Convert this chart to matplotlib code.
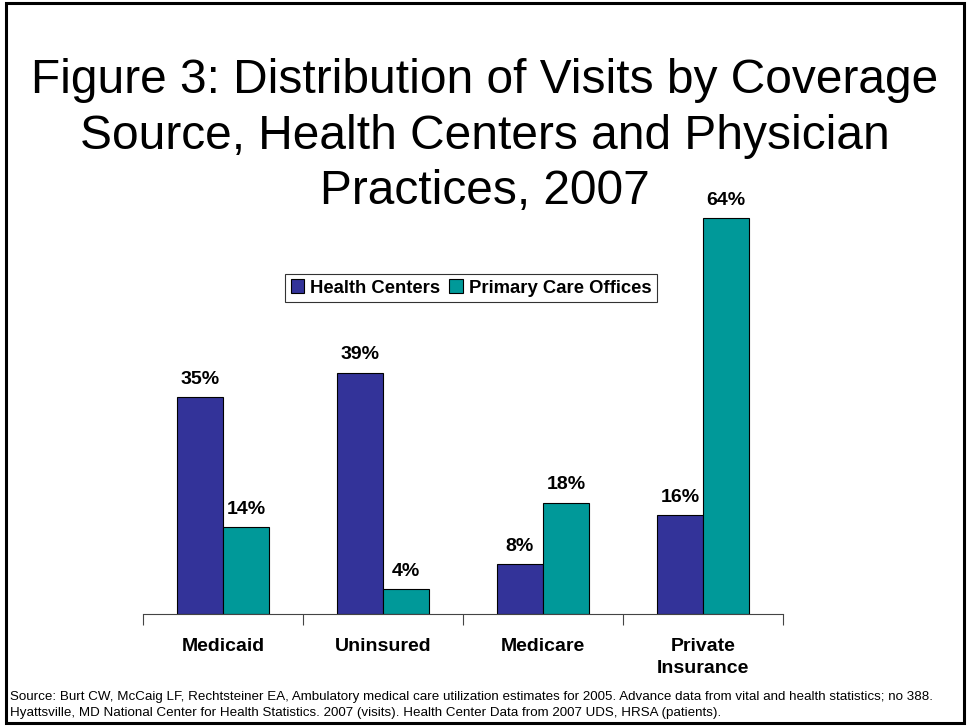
import matplotlib.pyplot as plt
from matplotlib.patches import Rectangle
import numpy as np

plt.rcParams['font.family'] = ['Liberation Sans', 'DejaVu Sans']

kategori = ['Medicaid', 'Uninsured', 'Medicare', 'Private\nInsurance']
health_centers = [35, 39, 8, 16]
primary_care = [14, 4, 18, 64]
seri = ['Health Centers', 'Primary Care Offices']
warna = ['#333399', '#009999']
judul = ['Figure 3: Distribution of Visits by Coverage',
         'Source, Health Centers and Physician',
         'Practices, 2007']

W, H = 968, 727
fig = plt.figure(figsize=(W / 100, H / 100), dpi=100)

# border around the whole slide
fig.patches.append(Rectangle((6 / W, 4 / H), (964 - 6) / W, (724 - 4) / H,
                             transform=fig.transFigure, fill=False,
                             edgecolor='black', linewidth=2.2))

# title, one text per line
for baris, yb in zip(judul, [93, 149, 204]):
    fig.text(485 / W, 1 - yb / H, baris, ha='center', va='baseline',
             fontsize=34.5)

# plot area: x 143..783, baseline at y=614, 6.19 px per percent
ymax = 70
px_per = 6.19
top = 614 - ymax * px_per
ax = fig.add_axes([143 / W, 1 - 614 / H, 640 / W, (614 - top) / H])

x = np.arange(len(kategori))
lebar = 46 / 160
b1 = ax.bar(x - lebar / 2, health_centers, lebar, color=warna[0],
            edgecolor='black', linewidth=0.8, label=seri[0])
b2 = ax.bar(x + lebar / 2, primary_care, lebar, color=warna[1],
            edgecolor='black', linewidth=0.8, label=seri[1])

for bars, vals in [(b1, health_centers), (b2, primary_care)]:
    for b, v in zip(bars, vals):
        ax.text(b.get_x() + b.get_width() / 2, v + 1.5, f'{v}%',
                ha='center', va='bottom', fontsize=14, fontweight='bold')

ax.set_xlim(-0.5, len(kategori) - 0.5)
ax.set_ylim(0, ymax)
ax.set_yticks([])
ax.set_xticks(np.arange(len(kategori) + 1) - 0.5, minor=False)
ax.set_xticklabels([])
ax.tick_params(axis='x', direction='out', length=8, width=0.8, color='#444444')
for s in ['top', 'right', 'left']:
    ax.spines[s].set_visible(False)
ax.spines['bottom'].set_color('#444444')
ax.spines['bottom'].set_linewidth(0.8)

for i, k in enumerate(kategori):
    ax.text(i, -3.9, k, ha='center', va='top', fontsize=14,
            fontweight='bold', linespacing=1.4)

leg = fig.legend(loc='center', bbox_to_anchor=(471 / W, 1 - 288 / H), ncol=2,
                 frameon=True, fancybox=False, edgecolor='black',
                 prop={'size': 13.3, 'weight': 'bold'}, handlelength=0.75,
                 handleheight=0.75, handletextpad=0.3, columnspacing=0.5,
                 borderpad=0.3, borderaxespad=0)
leg.get_frame().set_linewidth(0.8)

fig.text(10 / W, 1 - 697 / H,
         'Source: Burt CW, McCaig LF, Rechtsteiner EA, Ambulatory medical care utilization '
         'estimates for 2005. Advance data from vital and health statistics; no 388.',
         ha='left', va='center', fontsize=9.6)
fig.text(10 / W, 1 - 713 / H,
         'Hyattsville, MD National Center for Health Statistics. 2007 (visits). '
         'Health Center Data from 2007 UDS, HRSA (patients).',
         ha='left', va='center', fontsize=9.6)

fig.savefig('out.png', dpi=100)
